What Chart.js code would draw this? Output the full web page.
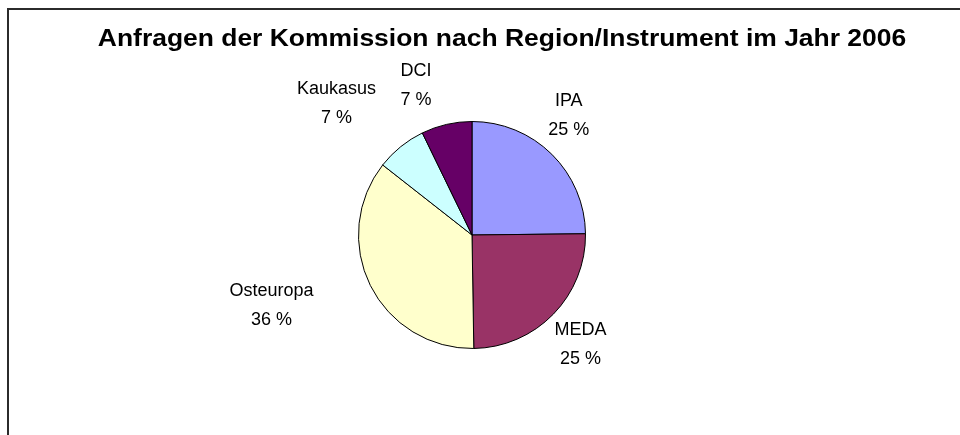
<!DOCTYPE html>
<html>
<head>
<meta charset="utf-8">
<script src="https://cdn.jsdelivr.net/npm/chart.js@4.4.0/dist/chart.umd.min.js"></script>
<style>
  body { margin: 0; background: #fff; }
  #wrap { width: 960px; height: 435px; }
</style>
</head>
<body>
<div id="wrap"><canvas id="pie" width="960" height="435"></canvas></div>
<script>
// Data
const TITLE = 'Anfragen der Kommission nach Region/Instrument im Jahr 2006';
const CATEGORIES = ['IPA', 'MEDA', 'Osteuropa', 'Kaukasus', 'DCI'];
const SHARES = [24.8, 24.9, 35.8, 7.2, 7.2];
const COLORS = ['#9999FF', '#993366', '#FFFFCC', '#CCFFFF', '#660066'];

// white background + the frame lines of the original chart box
const framePlugin = {
    id: 'frame',
    beforeDraw(chart) {
        const ctx = chart.ctx;
        ctx.save();
        ctx.fillStyle = '#fff';
        ctx.fillRect(0, 0, chart.width, chart.height);
        ctx.strokeStyle = '#2b2b2b';
        ctx.lineWidth = 2;
        ctx.beginPath();
        ctx.moveTo(8, chart.height);
        ctx.lineTo(8, 9);
        ctx.lineTo(chart.width, 9);
        ctx.stroke();
        ctx.restore();
    }
};

// title, slightly stretched horizontally like the source image
const stretchTitle = {
    id: 'stretchTitle',
    afterDraw(chart, args, opts) {
        const ctx = chart.ctx;
        ctx.save();
        ctx.font = opts.font;
        ctx.fillStyle = '#000';
        ctx.textAlign = 'center';
        ctx.textBaseline = 'alphabetic';
        ctx.translate(opts.x, opts.y);
        ctx.scale(opts.scaleX, 1);
        ctx.fillText(opts.text, 0, 0);
        ctx.restore();
    }
};

// two-line labels (name + percent) outside each slice,
// placed around the slice's mid angle like Excel's "best fit"
const outerLabels = {
    id: 'outerLabels',
    afterDatasetsDraw(chart, args, opts) {
        const ctx = chart.ctx;
        const meta = chart.getDatasetMeta(0);
        const values = chart.data.datasets[0].data;
        const total = values.reduce((a, b) => a + b, 0);
        ctx.save();
        ctx.font = opts.font;
        ctx.fillStyle = '#000';
        ctx.textAlign = 'center';
        ctx.textBaseline = 'middle';
        meta.data.forEach((arc, i) => {
            const p = arc.getProps(['x', 'y', 'startAngle', 'endAngle', 'outerRadius'], true);
            const mid = (p.startAngle + p.endAngle) / 2 + opts.turn[i] * Math.PI / 180;
            const r = p.outerRadius + opts.distance[i];
            const cx = p.x + Math.cos(mid) * r;
            const cy = p.y + Math.sin(mid) * r;
            const lines = [chart.data.labels[i], Math.round(values[i] / total * 100) + ' %'];
            lines.forEach((l, j) => {
                ctx.fillText(l, cx, cy + (j - (lines.length - 1) / 2) * opts.lineHeight);
            });
        });
        ctx.restore();
    }
};

const ctx = document.getElementById('pie').getContext('2d');
new Chart(ctx, {
    type: 'pie',
    data: {
        labels: CATEGORIES,
        datasets: [{
            data: SHARES,
            backgroundColor: COLORS,
            borderColor: '#000',
            borderWidth: 1
        }]
    },
    options: {
        responsive: false,
        animation: false,
        events: [],
        layout: {
            padding: { top: 121, bottom: 86, left: 358, right: 374 }
        },
        plugins: {
            legend: { display: false },
            title: { display: false },
            tooltip: { enabled: false },
            stretchTitle: {
                text: TITLE,
                font: 'bold 23px "Liberation Sans", Arial, sans-serif',
                x: 502,
                y: 46,
                scaleX: 1.15
            },
            outerLabels: {
                font: '18px "Liberation Sans", Arial, sans-serif',
                lineHeight: 29,
                distance: [40, 41, 99, 75, 46],
                turn: [-5.6, 1.1, 7, -7, -7.6]
            }
        }
    },
    plugins: [framePlugin, stretchTitle, outerLabels]
});
</script>
</body>
</html>
